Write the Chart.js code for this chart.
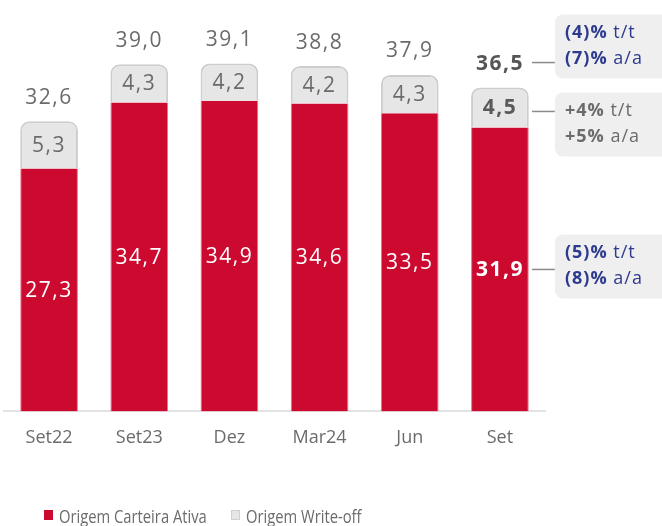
<!DOCTYPE html>
<html><head><meta charset="utf-8">
<script src="https://cdn.jsdelivr.net/npm/chart.js@4"></script>
<style>html,body{margin:0;padding:0;overflow:hidden;background:#fff}#wrap{width:662px;height:526px}</style>
</head><body><div id="wrap"><canvas id="c"></canvas></div>
<script>
const categories = ["Set22","Set23","Dez","Mar24","Jun","Set"];
const carteiraAtiva = [27.3,34.7,34.9,34.6,33.5,31.9];
const writeOff = [5.3,4.3,4.2,4.2,4.3,4.5];
const totals = [32.6,39.0,39.1,38.8,37.9,36.5];
const seriesNames = ["Origem Carteira Ativa","Origem Write-off"];
const notes = [
  {ref:"total", boxOff:-48, lines:[["(4)%"," t/t"],["(7)%"," a/a"]], color:"#2e3a8e"},
  {ref:"writeoff", boxOff:-19, lines:[["+4%"," t/t"],["+5%"," a/a"]], color:"#6b6b6b"},
  {ref:"ativa", boxOff:-35, lines:[["(5)%"," t/t"],["(8)%"," a/a"]], color:"#2e3a8e"}
];
const FONT = "'Open Sans', sans-serif";
const RED = "#cc0a2f", GRAY = "#e6e6e6";
const fmt = v => v.toFixed(1).replace(".", ",");

function rr(ctx,x,y,w,h,r){ctx.beginPath();ctx.moveTo(x+r,y);ctx.lineTo(x+w-r,y);ctx.quadraticCurveTo(x+w,y,x+w,y+r);ctx.lineTo(x+w,y+h-r);ctx.quadraticCurveTo(x+w,y+h,x+w-r,y+h);ctx.lineTo(x+r,y+h);ctx.quadraticCurveTo(x,y+h,x,y+h-r);ctx.lineTo(x,y+r);ctx.quadraticCurveTo(x,y,x+r,y);ctx.closePath();}

const labelsPlugin = {
  id:"labels",
  afterDatasetsDraw(chart){
    const ctx = chart.ctx, y = chart.scales.y;
    const m0 = chart.getDatasetMeta(0), m1 = chart.getDatasetMeta(1);
    const last = categories.length-1;
    ctx.save();
    ctx.textAlign="center"; ctx.textBaseline="middle";
    ctx.letterSpacing = "1.5px";
    categories.forEach((c,i)=>{
      const b = i===last ? "bold " : "";
      const r = m0.data[i], g = m1.data[i];
      ctx.font = b+"21px "+FONT;
      ctx.fillStyle="#ffffff";
      ctx.fillText(fmt(carteiraAtiva[i]), r.x, (r.y+r.base)/2 + 1);
      ctx.fillStyle= i===last ? "#5a5a5a" : "#6b6b6b";
      ctx.fillText(fmt(writeOff[i]), g.x, (g.y+g.base)/2 + 1);
      ctx.fillStyle= i===last ? "#555555" : "#6b6b6b";
      ctx.fillText(fmt(totals[i]), g.x, y.getPixelForValue(totals[i]) - 23);
    });
    // annotations for last bar
    const r = m0.data[last], g = m1.data[last];
    const anchors = {
      total: y.getPixelForValue(totals[last]) - 24,
      writeoff: (g.y+g.base)/2 + 4,
      ativa: (r.y+r.base)/2
    };
    const x0 = r.x + 32, x1 = x0 + 23;
    ctx.letterSpacing = "1px";
    notes.forEach(n=>{
      const ay = anchors[n.ref];
      ctx.strokeStyle="#8a8a8a"; ctx.lineWidth=1.5;
      ctx.beginPath(); ctx.moveTo(x0,ay); ctx.lineTo(x1,ay); ctx.stroke();
      ctx.fillStyle="#efefef";
      const top = ay + n.boxOff;
      rr(ctx,x1,top,130,64,9); ctx.fill();
      ctx.textAlign="left";
      n.lines.forEach((ln,k)=>{
        const ty = top + 18 + k*26;
        ctx.font = "bold 18px "+FONT; ctx.fillStyle=n.color;
        ctx.fillText(ln[0], x1+10, ty);
        const w = ctx.measureText(ln[0]).width;
        ctx.font = "18px "+FONT;
        ctx.fillText(ln[1], x1+10+w, ty);
      });
    });
    // legend
    ctx.letterSpacing = "0px";
    ctx.textAlign="left";
    ctx.font = "18px "+FONT;
    const lx = [44, 231], cols=[RED, GRAY];
    seriesNames.forEach((s,i)=>{
      ctx.fillStyle=cols[i];
      ctx.fillRect(lx[i], 510, 9, 10);
      if(i===1){ctx.strokeStyle="#d0d0d0";ctx.lineWidth=1;ctx.strokeRect(lx[i]+0.5,510.5,8,9);}
      ctx.fillStyle="#6b6b6b";
      ctx.save();
      ctx.translate(lx[i]+15, 518);
      ctx.scale(0.82,1);
      ctx.fillText(s, 0, 0);
      ctx.restore();
    });
    ctx.restore();
  }
};

new Chart(document.getElementById("c"), {
  type:"bar",
  data:{
    labels:categories,
    datasets:[
      {label:seriesNames[0], data:carteiraAtiva, backgroundColor:RED, borderColor:"#e5758a", borderWidth:{left:1,right:1,top:0,bottom:0}, borderSkipped:false, barPercentage:0.64, categoryPercentage:1},
      {label:seriesNames[1], data:writeOff, backgroundColor:GRAY, borderColor:"#cdcdcd", borderWidth:{left:2,right:2,top:2,bottom:0}, borderRadius:{topLeft:9,topRight:9,bottomLeft:0,bottomRight:0}, borderSkipped:"bottom", barPercentage:0.64, categoryPercentage:1}
    ]
  },
  options:{
    responsive:true, maintainAspectRatio:false, animation:false,
    layout:{padding:{left:4,right:117,top:2,bottom:61}},
    plugins:{legend:{display:false}, tooltip:{enabled:false}},
    scales:{
      x:{stacked:true, grid:{display:false, drawTicks:false}, border:{color:"#e3e3e3", width:2},
         ticks:{color:"#6b6b6b", font:{family:FONT, size:18}, padding:16}},
      y:{stacked:true, display:false, min:0, max:46}
    }
  },
  plugins:[labelsPlugin]
});
</script></body></html>
